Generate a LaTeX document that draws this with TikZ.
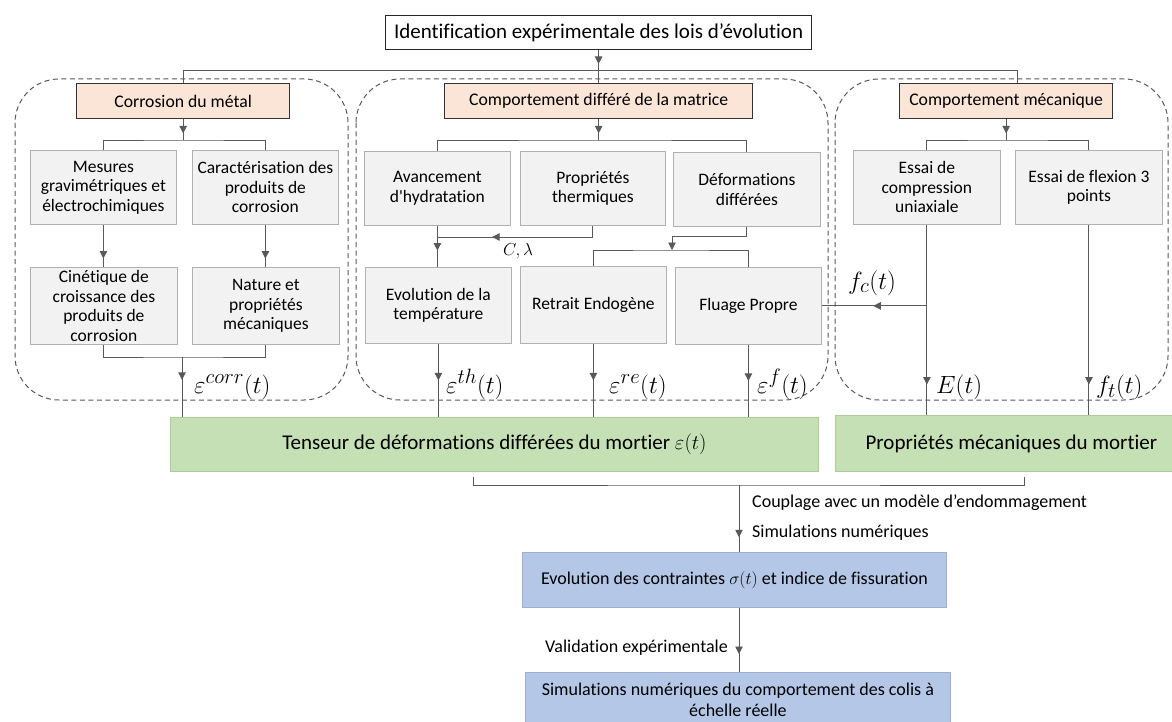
\documentclass[tikz,border=0pt]{standalone}
\usepackage{fontspec}
\setmainfont{Carlito}[Ligatures={TeX,NoCommon}]
\usetikzlibrary{arrows.meta,decorations.markings,calc}
\definecolor{lc}{HTML}{595959}
\definecolor{orfill}{HTML}{FBE5D6}
\definecolor{grfill}{HTML}{F2F2F2}
\definecolor{grline}{HTML}{B0B0B0}
\definecolor{gnfill}{HTML}{C5E0B4}
\definecolor{gnline}{HTML}{ACCC98}
\definecolor{blfill}{HTML}{B4C7E7}
\definecolor{blline}{HTML}{9AAFD3}
\begin{document}
\begin{tikzpicture}[x=1pt,y=-1pt,
  ln/.style={color=lc, line width=0.9pt},
  ma/.style={postaction={decorate}, decoration={markings, mark=at position #1 with {\arrow{Triangle[width=7.5pt,length=7.5pt]}}}},
  ea/.style={-{Triangle[width=7.5pt,length=7.5pt]}},
  bxb/.style={anchor=north west, align=center, inner sep=0pt, line width=0.8pt},
  topb/.style={bxb, draw=black!85, fill=white, line width=1.2pt, font=\fontsize{21}{24}\selectfont},
  orb/.style={bxb, draw=black!80, fill=orfill, line width=1.3pt, font=\fontsize{17.7}{21}\selectfont},
  grb/.style={bxb, draw=grline, fill=grfill, font=\fontsize{17.5}{19.5}\selectfont},
  gnb/.style={bxb, draw=gnline, fill=gnfill, font=\fontsize{21}{24}\selectfont},
  blb/.style={bxb, draw=blline, fill=blfill, font=\fontsize{18}{21}\selectfont},
  dsh/.style={draw=lc, dash pattern=on 5pt off 3.5pt, line width=1pt, rounded corners=44pt},
  lab/.style={font=\fontsize{18}{21}\selectfont, inner sep=0pt},
  mlab/.style={font=\fontsize{31}{34}\selectfont, inner sep=0pt, anchor=base west},
]
\useasboundingbox (0,0) rectangle (1172,722);
\fill[white] (0,0) rectangle (1172,722);

% dashed groups
\draw[dsh] (15,79) rectangle (348,400);
\draw[dsh] (356,79) rectangle (828,400);
\draw[dsh] (835,79) rectangle (1168,400);

% nodes
\node[topb, minimum width=426pt, minimum height=34pt] (top) at (385,15) {Identification expérimentale des lois d’évolution};
\node[orb, minimum width=213pt, minimum height=35pt] (orL) at (76,83) {Corrosion du métal};
\node[orb, minimum width=308pt, minimum height=35pt] (orM) at (444,83) {Comportement différé de la matrice};
\node[orb, minimum width=213pt, minimum height=35pt] (orR) at (899,83) {Comportement mécanique};

\node[grb, minimum width=146pt, minimum height=74pt] (mes) at (30,150) {Mesures\\gravimétriques et\\électrochimiques};
\node[grb, minimum width=146pt, minimum height=74pt] (car) at (192,150) {Caractérisation des\\produits de\\corrosion};
\node[grb, minimum width=147pt, minimum height=77pt] (cin) at (30,267) {Cinétique de\\croissance des\\produits de\\corrosion};
\node[grb, minimum width=147pt, minimum height=77pt] (nat) at (192,267) {Nature et\\propriétés\\mécaniques};

\node[grb, minimum width=146pt, minimum height=74pt] (ava) at (364,151) {Avancement\\d\textquotesingle hydratation};
\node[grb, minimum width=145pt, minimum height=74pt] (pro) at (520,151) {Propriétés\\thermiques};
\node[grb, minimum width=147pt, minimum height=74pt] (def) at (673,152) {Déformations\\différées};
\node[grb, minimum width=146pt, minimum height=76pt] (evo) at (365,267) {Evolution de la\\température};
\node[grb, minimum width=146pt, minimum height=77pt] (ret) at (520,266) {Retrait Endogène};
\node[grb, minimum width=146pt, minimum height=77pt] (flu) at (675,267) {Fluage Propre};

\node[grb, minimum width=147pt, minimum height=74pt] (ecomp) at (853,150) {Essai de\\compression\\uniaxiale};
\node[grb, minimum width=147pt, minimum height=74pt] (eflex) at (1015,150) {Essai de flexion 3\\points};

\node[gnb, minimum width=648pt, minimum height=54pt] (gL) at (170,417) {Tenseur de déformations différées du mortier $\varepsilon(t)$};
\node[gnb, minimum width=352pt, minimum height=56pt] (gR) at (835,415) {Propriétés mécaniques du mortier};

\node[blb, minimum width=424pt, minimum height=55pt] (b1) at (522,552) {Evolution des contraintes $\sigma(t)$ et indice de fissuration};
\node[blb, minimum width=425pt, minimum height=55pt] (b2) at (525,672) {Simulations numériques du comportement des colis à\\échelle réelle};

% top connectors
\draw[ln, ma=0.42] (top.south) -- (top.south |- orM.north);
\coordinate (bL) at (183,70);
\coordinate (bR) at (1017,70);
\draw[ln] (bL |- orL.north) -- (bL) -- (bR) -- (bR |- orR.north);

% brackets below orange boxes
\coordinate (kL) at (183,140);
\coordinate (kM) at (598,140);
\coordinate (kR) at (1008,140);
\draw[ln, ma=0.68] (orL.south) -- (orL.south |- kL);
\draw[ln, ma=0.68] (orM.south) -- (orM.south |- kM);
\draw[ln, ma=0.68] (orR.south) -- (orR.south |- kR);
\draw[ln] (mes.north) |- (kL) -| (car.north);
\draw[ln] (ava.north) |- (kM) -| (def.north);
\draw[ln] (ecomp.north) |- (kR) -| (eflex.north);

% left column
\draw[ln, ma=0.8] (mes.south) -- (mes.south |- cin.north);
\draw[ln, ma=0.8] (car.south) -- (car.south |- nat.north);
\coordinate (kC) at (182,357);
\draw[ln] (cin.south) |- (kC) -| (nat.south);
\draw[ln, ma=0.38] (kC) -- (kC |- gL.north);
\node[mlab] (lcorr) at (194,393) {$\varepsilon^{corr}(t)$};

% middle column
\draw[ln, ma=0.6] (ava.south) -- (ava.south |- evo.north);
\coordinate (cl) at (437,237);
\draw[ln, ma=0.67] (pro.south) |- (cl);
\node[lab, anchor=base west, font=\fontsize{17}{20}\selectfont] (clam) at (503,255) {$C,\lambda$};
\coordinate (dj) at (672,236);
\coordinate (kD) at (672,250);
\draw[ln, ea] (def.south) |- (dj) -- (kD);
\draw[ln] (ret.north) |- (kD) -| (flu.north);
\draw[ln, ma=0.5] (evo.south) -- (evo.south |- gL.north);
\draw[ln, ma=0.5] (ret.south) -- (ret.south |- gL.north);
\draw[ln, ma=0.5] (flu.south) -- (flu.south |- gL.north);
\node[mlab] (lth) at (446,393) {$\varepsilon^{th}(t)$};
\node[mlab] (lre) at (609,393) {$\varepsilon^{re}(t)$};
\node[mlab] (lf) at (757,393) {$\varepsilon^{f}(t)$};

% right column
\draw[ln, ma=0.84] (ecomp.south) -- (ecomp.south |- gR.north);
\draw[ln, ma=0.84] (eflex.south) -- (eflex.south |- gR.north);
\coordinate (fcj) at (ecomp.south |- flu.east);
\draw[ln, ma=0.51] (fcj) -- (flu.east);
\node[mlab, font=\fontsize{29}{32}\selectfont] (lfc) at (848,289) {$f_c(t)$};
\node[mlab] (lE) at (936,393) {$E(t)$};
\node[mlab] (lft) at (1096,393) {$f_t(t)$};

% bottom
\coordinate (kB) at (739,485);
\coordinate (kBl) at (473,477);
\coordinate (kBr) at (1024,477);
\draw[ln] (kBl) |- (kB) -| (kBr);
\draw[ln, ma=0.78] (kB) -- (kB |- b1.north);
\node[lab, anchor=west] (cpl) at (752,503) {Couplage avec un modèle d’endommagement};
\node[lab, anchor=west] (sim) at (752,533) {Simulations numériques};
\draw[ln, ma=0.72] (b1.south -| kB) -- (b2.north -| kB);
\node[lab, anchor=east] (val) at (728,648) {Validation expérimentale};
\end{tikzpicture}
\end{document}
